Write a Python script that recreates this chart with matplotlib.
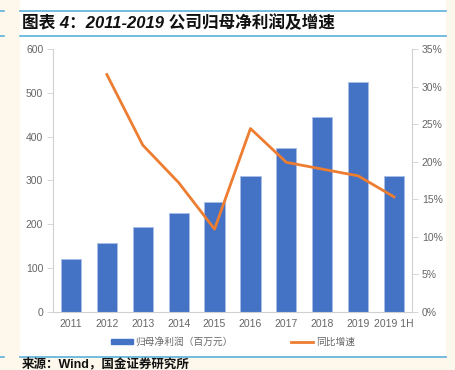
import matplotlib
matplotlib.use("Agg")
import matplotlib.pyplot as plt
from matplotlib.patches import Rectangle
from matplotlib.lines import Line2D
from matplotlib.ticker import FuncFormatter

# Arial-like latin glyphs, CJK falls back to Noto
plt.rcParams['font.family'] = ['Liberation Sans', 'Noto Sans CJK SC']

years = ["2011", "2012", "2013", "2014", "2015", "2016", "2017", "2018", "2019", "2019 1H"]
profit = [120, 158, 193, 225, 250, 311, 373, 444, 524, 310]
growth_years = years[1:]
growth = [31.6, 22.2, 17.2, 11.0, 24.4, 19.9, 19.0, 18.1, 15.3]

blue = "#4472C4"
orange = "#ED7D31"
cream = "#FEF8EC"
rule = "#5BB0DA"
grey = "#666666"

W, H = 455, 370
fig = plt.figure(figsize=(W / 100, H / 100), dpi=100)
fig.patch.set_facecolor(cream)

# white page panel behind everything
fig.patches.append(Rectangle((20 / W, 1 - 357 / H), 426 / W, 357 / H,
                             transform=fig.transFigure, facecolor="white",
                             edgecolor="none", zorder=-5))
for y in (11, 36, 357):
    fig.add_artist(Line2D([20 / W, 446 / W], [1 - y / H] * 2, color=rule, lw=1.2))
    fig.add_artist(Line2D([0, 4 / W], [1 - y / H] * 2, color=rule, lw=1.2))

fig.text(22 / W, 1 - 23 / H, "图表 4：2011-2019 公司归母净利润及增速",
         fontsize=12, fontweight="bold", style="italic", va="center", color="#111111")
fig.text(22 / W, 1 - 364 / H, "来源：Wind，国金证券研究所", fontsize=9,
         fontweight="bold", va="center", color="#111111")

ax = fig.add_axes([53 / W, 1 - 311.7 / H, 359 / W, 262.7 / H])
ax.set_facecolor("none")
x = list(range(len(years)))
ax.bar(x, profit, width=0.56, color=blue, edgecolor="#A9BFE6", linewidth=0.6, zorder=2)
ax.set_xlim(-0.5, len(years) - 0.5)
ax.set_ylim(0, 600)
ax.set_yticks(range(0, 601, 100))
ax.set_xticks(x)
ax.set_xticklabels(years)
ax.tick_params(axis="x", length=0, labelsize=7.5, colors=grey, pad=5)
ax.tick_params(axis="y", length=4, width=0.6, color="#D0D0D0", labelsize=7.5,
               labelcolor=grey, pad=3)
for side in ("top", "right"):
    ax.spines[side].set_visible(False)
for side in ("left", "bottom"):
    ax.spines[side].set_color("#D0D0D0")
    ax.spines[side].set_linewidth(0.8)

ax2 = ax.twinx()
ax2.set_facecolor("none")
ax2.plot(x[1:], growth, color=orange, lw=2, zorder=3)
ax2.set_ylim(0, 35)
ax2.set_yticks(range(0, 36, 5))
ax2.yaxis.set_major_formatter(FuncFormatter(lambda v, p: f"{v:.0f}%"))
ax2.tick_params(axis="y", length=4, width=0.6, color="#D0D0D0", labelsize=7.5,
                labelcolor=grey, pad=3)
for side in ("top", "left", "bottom"):
    ax2.spines[side].set_visible(False)
ax2.spines["right"].set_color("#D0D0D0")
ax2.spines["right"].set_linewidth(0.8)

handles = [Rectangle((0, 0), 1, 1, color=blue),
           Line2D([0], [0], color=orange, lw=2)]
fig.legend(handles, ["归母净利润（百万元）", "同比增速"], loc="center",
           bbox_to_anchor=(233 / W, 1 - 342 / H), ncol=2, frameon=False,
           fontsize=7, labelcolor=grey, handlelength=2.2, handleheight=0.5,
           columnspacing=6, handletextpad=0.3)

fig.savefig("out.png", dpi=100, facecolor=fig.get_facecolor())
